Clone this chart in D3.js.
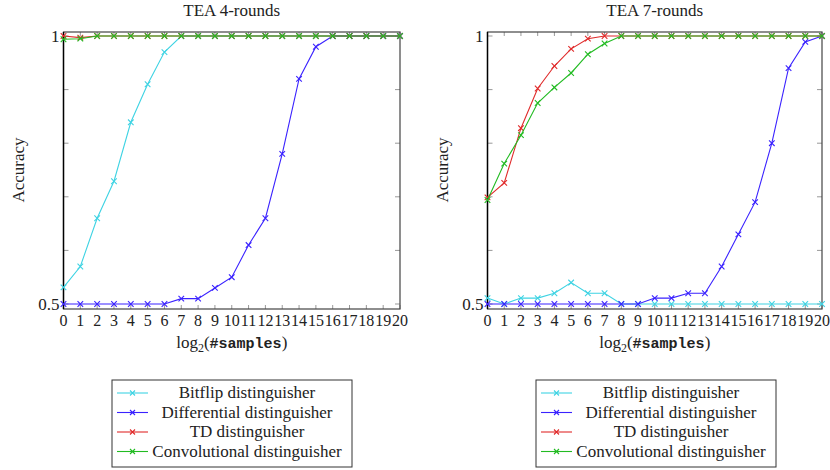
<!DOCTYPE html>
<html>
<head>
<meta charset="utf-8">
<script src="https://cdn.jsdelivr.net/npm/d3@7"></script>
<style>
  body { margin: 0; background: #fff; }
  svg text { font-family: "Liberation Serif", "DejaVu Serif", serif; fill: #222; }
</style>
</head>
<body>
<svg id="chart" width="830" height="470"></svg>
<script>
// x values: log2(#samples)
const samples = d3.range(0, 21);
const xTickLabels = samples.map(String);
const yTickValues = [0.5, 0.6, 0.7, 0.8, 0.9, 1];
const yTickLabels = { 0.5: '0.5', 1: '1' };

const seriesNames = ['Bitflip distinguisher', 'Differential distinguisher', 'TD distinguisher', 'Convolutional distinguisher'];
const seriesColors = ['#3ed3e3', '#3a22ff', '#e02a2a', '#22bb22'];

// TEA 4-rounds
const bitflip4 = [0.531, 0.570, 0.660, 0.729, 0.839, 0.910, 0.970, 1, 1, 1, 1, 1, 1, 1, 1, 1, 1, 1, 1, 1, 1];
const differential4 = [0.5, 0.5, 0.5, 0.5, 0.5, 0.5, 0.5, 0.510, 0.510, 0.530, 0.550, 0.610, 0.660, 0.780, 0.920, 0.980, 1, 1, 1, 1, 1];
const td4 = [1, 0.997, 1, 1, 1, 1, 1, 1, 1, 1, 1, 1, 1, 1, 1, 1, 1, 1, 1, 1, 1];
const conv4 = [0.994, 0.995, 1, 1, 1, 1, 1, 1, 1, 1, 1, 1, 1, 1, 1, 1, 1, 1, 1, 1, 1];

// TEA 7-rounds
const bitflip7 = [0.511, 0.5, 0.511, 0.511, 0.520, 0.540, 0.520, 0.520, 0.5, 0.5, 0.5, 0.5, 0.5, 0.5, 0.5, 0.5, 0.5, 0.5, 0.5, 0.5, 0.5];
const differential7 = [0.5, 0.5, 0.5, 0.5, 0.5, 0.5, 0.5, 0.5, 0.5, 0.5, 0.511, 0.511, 0.520, 0.520, 0.570, 0.630, 0.690, 0.800, 0.940, 0.989, 1];
const td7 = [0.699, 0.726, 0.828, 0.902, 0.944, 0.976, 0.995, 1, 1, 1, 1, 1, 1, 1, 1, 1, 1, 1, 1, 1, 1];
const conv7 = [0.694, 0.762, 0.815, 0.875, 0.904, 0.931, 0.966, 0.986, 1, 1, 1, 1, 1, 1, 1, 1, 1, 1, 1, 1, 1];

const panels = [
  { title: 'TEA 4-rounds', left: 63.5, width: 336.5, series: [bitflip4, differential4, td4, conv4] },
  { title: 'TEA 7-rounds', left: 487.5, width: 334.5, series: [bitflip7, differential7, td7, conv7] }
];

const svg = d3.select('#chart');
const plotTop = 32, plotBottom = 309;

panels.forEach((p) => {
  const plotW = p.width;
  const x = d3.scaleLinear().domain([0, 20]).range([p.left, p.left + plotW]);
  const y = d3.scaleLinear().domain([0.5, 1]).range([304, 36]);
  const g = svg.append('g');

  // ticks inward on all four sides
  const tickCol = '#999';
  samples.forEach((s) => {
    g.append('line').attr('x1', x(s)).attr('x2', x(s)).attr('y1', plotBottom).attr('y2', plotBottom - 4)
      .attr('stroke', tickCol).attr('stroke-width', 1);
    g.append('line').attr('x1', x(s)).attr('x2', x(s)).attr('y1', plotTop).attr('y2', plotTop + 4)
      .attr('stroke', tickCol).attr('stroke-width', 1);
  });
  yTickValues.forEach((v) => {
    g.append('line').attr('x1', p.left).attr('x2', p.left + 5).attr('y1', y(v)).attr('y2', y(v))
      .attr('stroke', tickCol).attr('stroke-width', 1);
    g.append('line').attr('x1', p.left + plotW).attr('x2', p.left + plotW - 5).attr('y1', y(v)).attr('y2', y(v))
      .attr('stroke', tickCol).attr('stroke-width', 1);
  });

  // frame
  g.append('rect').attr('x', p.left).attr('y', plotTop).attr('width', plotW).attr('height', plotBottom - plotTop)
    .attr('fill', 'none').attr('stroke', '#444').attr('stroke-width', 1.2);
  g.append('line').attr('x1', p.left).attr('x2', p.left).attr('y1', plotTop).attr('y2', plotBottom)
    .attr('stroke', '#000').attr('stroke-width', 1.4);

  // tick labels
  g.selectAll('.xt').data(samples).enter().append('text')
    .attr('x', (d) => x(d)).attr('y', 326).attr('text-anchor', 'middle')
    .style('font-size', '16px').text((d, i) => xTickLabels[i]);
  Object.keys(yTickLabels).forEach((k) => {
    g.append('text').attr('x', p.left - 4).attr('y', y(+k) + 5.5).attr('text-anchor', 'end')
      .style('font-size', '17px').text(yTickLabels[k]);
  });

  // title and axis labels
  g.append('text').attr('x', p.left + plotW / 2).attr('y', 16).attr('text-anchor', 'middle')
    .style('font-size', '17px').text(p.title);
  g.append('text').attr('transform', `translate(${p.left - 40},170) rotate(-90)`)
    .attr('text-anchor', 'middle').style('font-size', '17px').text('Accuracy');
  const xl = g.append('text').attr('x', p.left + plotW / 2).attr('y', 348).attr('text-anchor', 'middle')
    .style('font-size', '17px');
  xl.append('tspan').text('log');
  xl.append('tspan').attr('dy', 4).style('font-size', '12px').text('2');
  xl.append('tspan').attr('dy', -4).text('(');
  xl.append('tspan').style('font-family', '"Liberation Mono", "DejaVu Sans Mono", monospace')
    .style('font-size', '15px').style('font-weight', 'bold').text('#samples');
  xl.append('tspan').text(')');

  // series
  const line = d3.line().x((d, i) => x(samples[i])).y((d) => y(d));
  p.series.forEach((vals, si) => {
    const col = seriesColors[si];
    g.append('path').datum(vals).attr('d', line).attr('fill', 'none')
      .attr('stroke', col).attr('stroke-width', 1.1);
    g.selectAll(null).data(vals).enter().append('path')
      .attr('d', (d, i) => {
        const cx = x(samples[i]), cy = y(d), r = 2.8;
        return `M${cx - r},${cy - r}L${cx + r},${cy + r}M${cx - r},${cy + r}L${cx + r},${cy - r}`;
      })
      .attr('stroke', col).attr('stroke-width', 1.1).attr('fill', 'none');
  });

  // legend
  const lx = p.left + 48.5, ly = 380, lw = 240, lh = 87;
  const lg = g.append('g');
  lg.append('rect').attr('x', lx).attr('y', ly).attr('width', lw).attr('height', lh)
    .attr('fill', '#fff').attr('stroke', '#333').attr('stroke-width', 1);
  seriesNames.forEach((name, si) => {
    const ry = ly + 13 + si * 19.5;
    const col = seriesColors[si];
    lg.append('line').attr('x1', lx + 5).attr('x2', lx + 36).attr('y1', ry).attr('y2', ry)
      .attr('stroke', col).attr('stroke-width', 1.1);
    const cx = lx + 20.5, r = 2.5;
    lg.append('path').attr('d', `M${cx - r},${ry - r}L${cx + r},${ry + r}M${cx - r},${ry + r}L${cx + r},${ry - r}`)
      .attr('stroke', col).attr('stroke-width', 1.1);
    lg.append('text').attr('x', lx + 135).attr('y', ry + 5).attr('text-anchor', 'middle')
      .style('font-size', '17px').text(name);
  });
});
</script>
</body>
</html>
